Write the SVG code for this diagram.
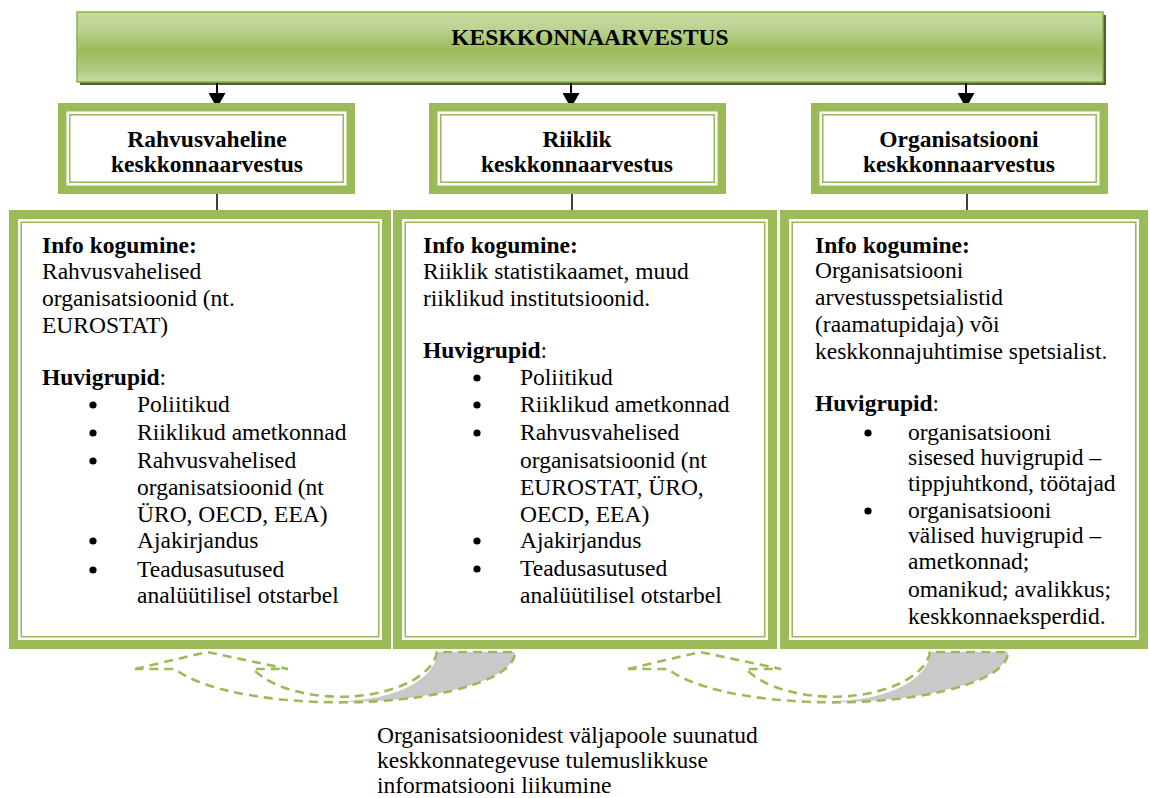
<svg xmlns="http://www.w3.org/2000/svg" width="1150" height="798" viewBox="0 0 1150 798">
<style>
  .t { font-family: "Liberation Serif", "Times New Roman", serif; font-size: 23.5px; fill: #000; }
  .b { font-weight: bold; }
  .m { text-anchor: middle; }
  .band { fill: #fff; stroke: #9bbb59; }
  .thin { fill: none; stroke: #9bbb59; stroke-width: 1.6; }
  .conn { stroke: #000; fill: none; }
  .dash { fill: none; stroke: #9bbb59; stroke-width: 2.6; stroke-dasharray: 9 6; }
  .shade { fill: #c9c9c9; stroke: none; }
</style>
<defs>
  <linearGradient id="gBanner" x1="0" y1="0" x2="0" y2="1">
    <stop offset="0" stop-color="#c6d9a0"/>
    <stop offset="0.25" stop-color="#bcd291"/>
    <stop offset="0.55" stop-color="#9bbb59"/>
    <stop offset="0.85" stop-color="#b3cc85"/>
    <stop offset="1" stop-color="#c9dba5"/>
  </linearGradient>
  <marker id="ah" viewBox="0 0 15 17" markerUnits="userSpaceOnUse" markerWidth="15" markerHeight="17" refX="7" refY="8.5" orient="auto">
    <path d="M0,0 L15,8.5 L0,17 Z" fill="#000"/>
  </marker>
  <path id="curved" d="M135,669 L207,652 L288,669 L253,669 A97 49 0 0 0 437 652 L515,652 A175 50 0 0 1 175 669 Z"/>
  <path id="curvedShade" d="M340,701 A97 49 0 0 0 437 652 L515,652 A175 50 0 0 1 340 702 Z"/>
</defs>

<rect width="1150" height="798" fill="#fff"/>

<g id="banner">
  <rect x="80" y="15" width="1026" height="70" fill="#4f6228"/>
  <rect x="77" y="12" width="1026" height="70" fill="url(#gBanner)" stroke="#8db04c" stroke-width="1.5"/>
  <text class="t b m" x="590" y="44.5">KESKKONNAARVESTUS</text>
</g>

<g id="connectors">
  <line class="conn" x1="217" y1="83" x2="217" y2="100" stroke-width="2" marker-end="url(#ah)"/>
  <line class="conn" x1="571" y1="83" x2="571" y2="100" stroke-width="2" marker-end="url(#ah)"/>
  <line class="conn" x1="966" y1="83" x2="966" y2="100" stroke-width="2" marker-end="url(#ah)"/>
  <line class="conn" x1="217" y1="194" x2="217" y2="210" stroke-width="1.5"/>
  <line class="conn" x1="572" y1="194" x2="572" y2="210" stroke-width="1.5"/>
  <line class="conn" x1="967" y1="194" x2="967" y2="210" stroke-width="1.5"/>
</g>

<g id="header-rahvusvaheline">
  <rect class="band" x="62.25" y="107.25" width="288.5" height="82.5" stroke-width="8.5"/>
  <rect class="thin" x="69.75" y="114.75" width="273.5" height="67.5"/>
  <text class="t b m" x="207" y="147">Rahvusvaheline</text>
  <text class="t b m" x="207" y="172">keskkonnaarvestus</text>
</g>

<g id="header-riiklik">
  <rect class="band" x="433.25" y="107.25" width="288.5" height="82.5" stroke-width="8.5"/>
  <rect class="thin" x="440.75" y="114.75" width="273.5" height="67.5"/>
  <text class="t b m" x="577" y="147">Riiklik</text>
  <text class="t b m" x="577" y="172">keskkonnaarvestus</text>
</g>

<g id="header-organisatsiooni">
  <rect class="band" x="815.25" y="107.25" width="288.5" height="82.5" stroke-width="8.5"/>
  <rect class="thin" x="822.75" y="114.75" width="273.5" height="67.5"/>
  <text class="t b m" x="959" y="147">Organisatsiooni</text>
  <text class="t b m" x="959" y="172">keskkonnaarvestus</text>
</g>

<g id="content-rahvusvaheline">
  <rect class="band" x="13.5" y="214.5" width="373" height="430" stroke-width="9"/>
  <rect class="thin" x="21.25" y="222.25" width="357.5" height="414.5"/>
  <text class="t b" x="42" y="253">Info kogumine:</text>
  <text class="t" x="42" y="279">Rahvusvahelised</text>
  <text class="t" x="42" y="306">organisatsioonid (nt.</text>
  <text class="t" x="42" y="333">EUROSTAT)</text>
  <text class="t" x="42" y="385"><tspan class="b">Huvigrupid</tspan>:</text>
  <g fill="#000">
    <circle cx="93" cy="405" r="3.6"/>
    <circle cx="93" cy="433" r="3.6"/>
    <circle cx="93" cy="461" r="3.6"/>
    <circle cx="93" cy="541" r="3.6"/>
    <circle cx="93" cy="570" r="3.6"/>
  </g>
  <text class="t" x="137" y="412">Poliitikud</text>
  <text class="t" x="137" y="440">Riiklikud ametkonnad</text>
  <text class="t" x="137" y="468">Rahvusvahelised</text>
  <text class="t" x="137" y="495">organisatsioonid (nt</text>
  <text class="t" x="137" y="522">ÜRO, OECD, EEA)</text>
  <text class="t" x="137" y="548">Ajakirjandus</text>
  <text class="t" x="137" y="577">Teadusasutused</text>
  <text class="t" x="137" y="603">analüütilisel otstarbel</text>
</g>

<g id="content-riiklik">
  <rect class="band" x="397.5" y="214.5" width="375" height="430" stroke-width="9"/>
  <rect class="thin" x="405.25" y="222.25" width="359.5" height="414.5"/>
  <text class="t b" x="423" y="253">Info kogumine:</text>
  <text class="t" x="423" y="279">Riiklik statistikaamet, muud</text>
  <text class="t" x="423" y="306">riiklikud institutsioonid.</text>
  <text class="t" x="423" y="358"><tspan class="b">Huvigrupid</tspan>:</text>
  <g fill="#000">
    <circle cx="477" cy="378" r="3.6"/>
    <circle cx="477" cy="405" r="3.6"/>
    <circle cx="477" cy="433" r="3.6"/>
    <circle cx="477" cy="541" r="3.6"/>
    <circle cx="477" cy="569" r="3.6"/>
  </g>
  <text class="t" x="520" y="385">Poliitikud</text>
  <text class="t" x="520" y="412">Riiklikud ametkonnad</text>
  <text class="t" x="520" y="440">Rahvusvahelised</text>
  <text class="t" x="520" y="468">organisatsioonid (nt</text>
  <text class="t" x="520" y="495">EUROSTAT, ÜRO,</text>
  <text class="t" x="520" y="522">OECD, EEA)</text>
  <text class="t" x="520" y="548">Ajakirjandus</text>
  <text class="t" x="520" y="576">Teadusasutused</text>
  <text class="t" x="520" y="603">analüütilisel otstarbel</text>
</g>

<g id="content-organisatsiooni">
  <rect class="band" x="784.5" y="214.5" width="359" height="430" stroke-width="9"/>
  <rect class="thin" x="792.25" y="222.25" width="343.5" height="414.5"/>
  <text class="t b" x="815" y="253">Info kogumine:</text>
  <text class="t" x="815" y="278">Organisatsiooni</text>
  <text class="t" x="815" y="305">arvestusspetsialistid</text>
  <text class="t" x="815" y="332">(raamatupidaja) või</text>
  <text class="t" x="815" y="359">keskkonnajuhtimise spetsialist.</text>
  <text class="t" x="815" y="411"><tspan class="b">Huvigrupid</tspan>:</text>
  <g fill="#000">
    <circle cx="868" cy="433" r="3.6"/>
    <circle cx="868" cy="511" r="3.6"/>
  </g>
  <text class="t" x="908" y="440">organisatsiooni</text>
  <text class="t" x="908" y="465">sisesed huvigrupid –</text>
  <text class="t" x="908" y="491">tippjuhtkond, töötajad</text>
  <text class="t" x="908" y="518">organisatsiooni</text>
  <text class="t" x="908" y="543">välised huvigrupid –</text>
  <text class="t" x="908" y="569">ametkonnad;</text>
  <text class="t" x="908" y="597">omanikud; avalikkus;</text>
  <text class="t" x="908" y="624">keskkonnaeksperdid.</text>
</g>

<g id="curved-arrow-1">
  <use href="#curvedShade" class="shade"/>
  <use href="#curved" class="dash"/>
</g>

<g id="curved-arrow-2" transform="translate(493,0)">
  <use href="#curvedShade" class="shade"/>
  <use href="#curved" class="dash"/>
</g>

<g id="caption">
  <text class="t" x="377" y="743">Organisatsioonidest väljapoole suunatud</text>
  <text class="t" x="377" y="768">keskkonnategevuse tulemuslikkuse</text>
  <text class="t" x="377" y="793">informatsiooni liikumine</text>
</g>
</svg>
